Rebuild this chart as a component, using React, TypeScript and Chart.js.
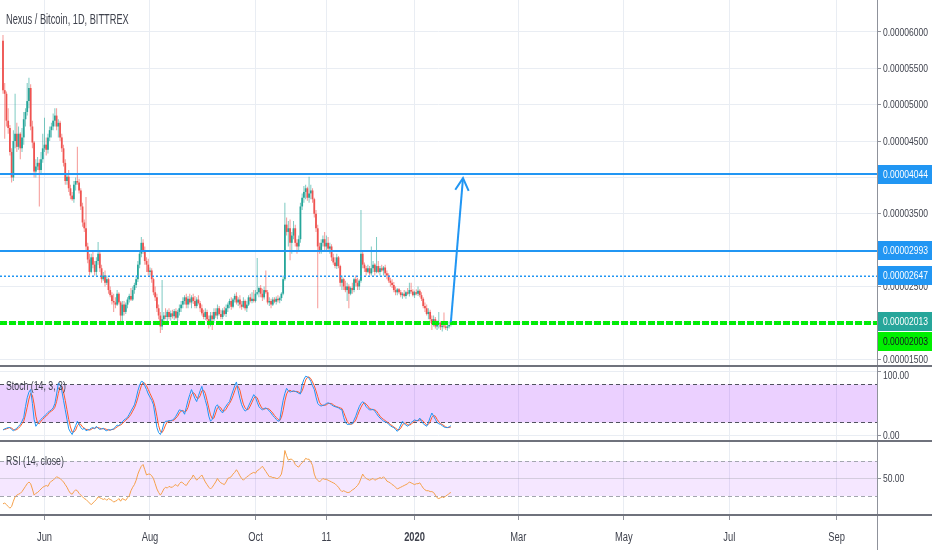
import React, { useEffect, useRef } from 'react';
import { Chart, registerables } from 'chart.js';

Chart.register(...registerables);

// ---------- text ----------
const TITLE = 'Nexus / Bitcoin, 1D, BITTREX';
const STOCH_LABEL = 'Stoch (14, 3, 3)';
const RSI_LABEL = 'RSI (14, close)';

// ---------- daily candles (prices in satoshi, 1e-8 BTC), index 0 = 8 May 2019 ----------
const OPEN = [
  5880, 5200, 5150, 4780, 4680, 4350, 4000, 4500, 4600, 4420,
  4600, 4400, 4550, 4800, 4900, 5050, 5230, 4700, 4480, 4080,
  4150, 4200, 4100, 4250, 4400, 4450, 4380, 4550, 4650, 4700,
  4780, 4850, 4700, 4750, 4550, 4400, 4200, 3950, 4010, 3850,
  3750, 3700, 3900, 3950, 3930, 3820, 3600, 3380, 3300, 3050,
  2870, 2700, 2900, 2800, 2700, 2850, 2950, 2750, 2600, 2650,
  2550, 2600, 2450, 2380, 2300, 2280, 2250, 2400, 2280, 2100,
  2250, 2150, 2250, 2320, 2370, 2320, 2450, 2520, 2600, 2800,
  2950, 3100, 3000, 2850, 2800, 2700, 2720, 2600, 2420, 2350,
  2200, 2100, 1950, 2050, 2100, 2080, 2150, 2080, 2130, 2090,
  2160, 2070, 2150, 2200, 2250, 2300, 2350, 2250, 2330, 2280,
  2350, 2300, 2230, 2320, 2270, 2200, 2130, 2080, 2150, 2050,
  2000, 2100, 2050, 2150, 2100, 2200, 2120, 2080, 2170, 2120,
  2200, 2250, 2300, 2220, 2320, 2370, 2280, 2320, 2250, 2220,
  2300, 2200, 2250, 2350, 2300, 2330, 2300, 2400, 2420, 2480,
  2400, 2350, 2450, 2420, 2280, 2300, 2250, 2320, 2290, 2330,
  2310, 2340, 2400, 2600, 3350, 3250, 3300, 3100, 3200, 3300,
  3100, 3050, 3150, 3600, 3720, 3800, 3850, 3720, 3780, 3820,
  3700, 3500, 3300, 3050, 3000, 3100, 3150, 3050, 3100, 3020,
  3050, 2900, 2830, 2780, 2900, 2780, 2550, 2600, 2500, 2450,
  2500, 2400, 2480, 2450, 2600, 2550, 2500, 2580, 2950, 2800,
  2750, 2700, 2750, 2680, 2750, 2800, 2700, 2780, 2700, 2750,
  2720, 2760, 2680, 2650, 2580, 2550, 2520, 2450, 2420, 2460,
  2420, 2380, 2400, 2370, 2420, 2400, 2450, 2430, 2380, 2420,
  2400, 2440, 2380, 2330, 2230, 2200, 2120, 2150, 2050, 1980,
  2050, 1950, 1980, 2000, 1940, 1960, 1950, 1930, 1950, 1970,
];
const HIGH = [
  5960, 5300, 5180, 4950, 4720, 4400, 4650, 5150, 4750, 4700,
  4620, 4680, 4900, 4950, 5300, 5370, 5280, 4780, 4500, 4250,
  4280, 4250, 4350, 4600, 4820, 4550, 4600, 4700, 4750, 4880,
  4950, 4950, 4800, 4780, 4600, 4450, 4250, 4050, 4100, 3900,
  3800, 3950, 4000, 4420, 3980, 3850, 3650, 3420, 3730, 3100,
  2950, 2950, 2980, 2850, 2900, 3110, 3000, 2800, 2700, 2720,
  2650, 2620, 2500, 2420, 2400, 2350, 2450, 2420, 2300, 2300,
  2300, 2280, 2350, 2400, 2480, 2500, 2550, 2650, 2850, 3000,
  3180, 3150, 3050, 2900, 2880, 2760, 2750, 2620, 2500, 2400,
  2250, 2150, 2590, 2150, 2200, 2180, 2200, 2170, 2180, 2190,
  2200, 2180, 2250, 2300, 2350, 2380, 2400, 2370, 2400, 2380,
  2400, 2370, 2350, 2380, 2300, 2250, 2180, 2200, 2180, 2100,
  2150, 2150, 2200, 2200, 2250, 2230, 2180, 2200, 2220, 2250,
  2280, 2330, 2350, 2340, 2400, 2420, 2350, 2380, 2300, 2350,
  2320, 2300, 2380, 2400, 2420, 2450, 2450, 2890, 2500, 2520,
  2470, 2500, 2720, 2450, 2350, 2330, 2350, 2350, 2360, 2380,
  2360, 2420, 2650, 3650, 3450, 3400, 3420, 3250, 3400, 3350,
  3150, 3200, 3650, 3780, 3880, 3900, 3870, 4010, 3900, 3850,
  3720, 3550, 3350, 3100, 3150, 3200, 3250, 3200, 3180, 3100,
  3080, 2950, 2900, 2950, 2920, 2800, 2650, 2620, 2580, 2550,
  2530, 2500, 2550, 2620, 2650, 2620, 2600, 3550, 3000, 2830,
  2780, 2800, 2780, 3050, 2850, 2820, 3180, 2850, 2780, 2800,
  2780, 2800, 2720, 2680, 2620, 2600, 2560, 2500, 2480, 2480,
  2450, 2420, 2450, 2440, 2480, 2550, 2550, 2460, 2440, 2460,
  2500, 2460, 2420, 2350, 2280, 2250, 2200, 2180, 2100, 2100,
  2080, 2030, 2150, 2020, 2000, 2140, 2000, 1980, 2020, 2040,
];
const LOW = [
  5150, 4530, 4700, 4600, 4300, 3930, 3950, 4400, 4350, 4380,
  4250, 4350, 4450, 4700, 4850, 4950, 4650, 4400, 4000, 4000,
  4100, 3600, 4050, 4200, 4350, 4300, 4330, 4500, 4550, 4650,
  4700, 4650, 4550, 4500, 4350, 4150, 3900, 3900, 3800, 3700,
  3680, 3650, 3820, 3900, 3780, 3550, 3320, 3250, 3000, 2820,
  2650, 2680, 2750, 2650, 2650, 2800, 2700, 2550, 2580, 2500,
  2520, 2400, 2350, 2250, 2150, 2200, 2230, 2250, 2000, 2000,
  2100, 2120, 2200, 2280, 2300, 2300, 2400, 2480, 2560, 2750,
  2900, 2950, 2800, 2700, 2650, 2650, 2550, 2380, 2300, 2150,
  2050, 1860, 1900, 2000, 2050, 2000, 2050, 2030, 2060, 2040,
  2050, 2020, 2100, 2150, 2200, 2250, 2200, 2200, 2250, 2200,
  2260, 2200, 2200, 2250, 2150, 2100, 2050, 2040, 2020, 1920,
  1950, 1900, 2000, 2070, 2050, 2100, 2050, 2050, 2100, 2080,
  2150, 2200, 2180, 2200, 2280, 2250, 2230, 2200, 2180, 2200,
  2170, 2150, 2230, 2280, 2270, 2280, 2280, 2380, 2350, 2350,
  2300, 2320, 2400, 2250, 2230, 2200, 2230, 2270, 2250, 2280,
  2270, 2300, 2380, 2580, 3200, 3050, 2860, 2950, 3150, 3050,
  2950, 3000, 3100, 3550, 3650, 3700, 3680, 3650, 3700, 3650,
  3450, 3250, 2200, 2950, 2950, 3050, 3000, 2980, 3000, 2950,
  2850, 2800, 2750, 2740, 2750, 2500, 2450, 2450, 2420, 2300,
  2200, 2380, 2400, 2420, 2500, 2450, 2450, 2550, 2750, 2700,
  2650, 2680, 2650, 2650, 2700, 2650, 2680, 2680, 2650, 2700,
  2650, 2650, 2600, 2550, 2500, 2480, 2420, 2380, 2380, 2400,
  2350, 2330, 2350, 2330, 2380, 2360, 2400, 2360, 2340, 2380,
  2370, 2350, 2300, 2200, 2150, 2100, 2050, 2000, 1900, 1950,
  1920, 1900, 1920, 1900, 1880, 1920, 1900, 1890, 1920, 1950,
];
const CLOSE = [
  5200, 5150, 4780, 4680, 4350, 4000, 4500, 4600, 4420, 4600,
  4400, 4550, 4800, 4900, 5050, 5230, 4700, 4480, 4080, 4150,
  4200, 4100, 4250, 4400, 4450, 4380, 4550, 4650, 4700, 4780,
  4850, 4700, 4750, 4550, 4400, 4200, 3950, 4010, 3850, 3750,
  3700, 3900, 3950, 3930, 3820, 3600, 3380, 3300, 3050, 2870,
  2700, 2900, 2800, 2700, 2850, 2950, 2750, 2600, 2650, 2550,
  2600, 2450, 2380, 2300, 2280, 2250, 2400, 2280, 2100, 2250,
  2150, 2250, 2320, 2370, 2320, 2450, 2520, 2600, 2800, 2950,
  3100, 3000, 2850, 2800, 2700, 2720, 2600, 2420, 2350, 2200,
  2100, 1950, 2050, 2100, 2080, 2150, 2080, 2130, 2090, 2160,
  2070, 2150, 2200, 2250, 2300, 2350, 2250, 2330, 2280, 2350,
  2300, 2230, 2320, 2270, 2200, 2130, 2080, 2150, 2050, 2000,
  2100, 2050, 2150, 2100, 2200, 2120, 2080, 2170, 2120, 2200,
  2250, 2300, 2220, 2320, 2370, 2280, 2320, 2250, 2220, 2300,
  2200, 2250, 2350, 2300, 2330, 2300, 2400, 2420, 2480, 2400,
  2350, 2450, 2420, 2280, 2300, 2250, 2320, 2290, 2330, 2310,
  2340, 2400, 2600, 3350, 3250, 3300, 3100, 3200, 3300, 3100,
  3050, 3150, 3600, 3720, 3800, 3850, 3720, 3780, 3820, 3700,
  3500, 3300, 3050, 3000, 3100, 3150, 3050, 3100, 3020, 3050,
  2900, 2830, 2780, 2900, 2780, 2550, 2600, 2500, 2450, 2500,
  2400, 2480, 2450, 2600, 2550, 2500, 2580, 2950, 2800, 2750,
  2700, 2750, 2680, 2750, 2800, 2700, 2780, 2700, 2750, 2720,
  2760, 2680, 2650, 2580, 2550, 2520, 2450, 2420, 2460, 2420,
  2380, 2400, 2370, 2420, 2400, 2450, 2430, 2380, 2420, 2400,
  2440, 2380, 2330, 2230, 2200, 2120, 2150, 2050, 1980, 2050,
  1950, 1980, 2000, 1940, 1960, 1950, 1930, 1950, 1970, 2013,
];

// ---------- indicators ----------
const STOCH_K = [
  8, 10, 11, 12, 12, 9, 7, 9, 11, 14,
  17, 22, 28, 45, 59, 68, 72, 50, 25, 14,
  18, 22, 25, 28, 30, 33, 36, 38, 40, 43,
  50, 65, 82, 80, 70, 55, 40, 25, 10, 5,
  1, 8, 15, 22, 17, 12, 9, 11, 7, 8,
  9, 11, 12, 10, 14, 11, 9, 10, 11, 8,
  7, 9, 8, 9, 10, 13, 16, 15, 18, 21,
  24, 26, 28, 33, 38, 43, 48, 58, 70, 79,
  85, 84, 78, 72, 65, 60, 55, 48, 30, 12,
  4, 1, 8, 18, 22, 22, 23, 23, 24, 26,
  30, 35, 40, 39, 38, 33, 44, 55, 64, 72,
  65, 58, 53, 62, 70, 77, 65, 55, 45, 30,
  22, 25, 35, 45, 48, 42, 38, 35, 42, 46,
  50, 53, 62, 70, 78, 84, 70, 58, 48, 42,
  38, 40, 46, 52, 58, 64, 60, 52, 45, 42,
  40, 42, 43, 41, 38, 35, 31, 28, 25, 22,
  23, 40, 55, 66, 74, 70, 68, 69, 70, 69,
  68, 66, 65, 80, 88, 93, 92, 90, 85, 78,
  72, 60, 50, 47, 46, 47, 48, 50, 51, 50,
  48, 46, 45, 44, 43, 41, 40, 28, 20, 17,
  17, 18, 18, 24, 30, 38, 45, 50, 53, 50,
  45, 42, 40, 40, 41, 38, 34, 30, 27, 25,
  22, 21, 20, 17, 15, 13, 12, 9, 6, 10,
  16, 22, 18, 16, 14, 17, 20, 22, 24, 23,
  23, 27, 22, 18, 16, 14, 20, 28, 35, 30,
  25, 20, 18, 17, 15, 13, 12, 12, 13, 15,
];
const STOCH_D = [
  9, 9, 10, 11, 12, 11, 9, 8, 9, 11,
  14, 18, 22, 32, 44, 57, 66, 63, 49, 30,
  19, 18, 22, 25, 28, 30, 33, 36, 38, 40,
  44, 53, 66, 76, 77, 68, 55, 40, 25, 13,
  5, 5, 8, 15, 18, 17, 13, 11, 9, 9,
  8, 9, 11, 11, 12, 12, 11, 10, 10, 10,
  9, 8, 8, 9, 9, 11, 13, 15, 16, 18,
  21, 24, 26, 29, 33, 38, 43, 50, 59, 69,
  78, 83, 82, 78, 72, 66, 60, 54, 44, 30,
  15, 6, 4, 9, 16, 21, 22, 23, 23, 24,
  27, 30, 35, 38, 39, 37, 38, 44, 54, 64,
  67, 65, 59, 58, 62, 70, 71, 66, 55, 43,
  32, 26, 27, 35, 43, 45, 43, 38, 38, 41,
  46, 50, 55, 62, 70, 77, 77, 71, 59, 49,
  43, 40, 41, 46, 52, 58, 61, 59, 52, 46,
  42, 41, 42, 42, 41, 38, 35, 31, 28, 25,
  23, 28, 39, 54, 65, 70, 71, 69, 69, 69,
  69, 68, 66, 70, 78, 87, 91, 92, 89, 84,
  78, 70, 61, 52, 48, 47, 47, 48, 50, 50,
  50, 48, 46, 45, 44, 43, 42, 36, 29, 22,
  18, 17, 18, 20, 24, 31, 38, 44, 49, 51,
  49, 46, 42, 41, 40, 40, 38, 34, 30, 27,
  25, 23, 21, 19, 17, 15, 13, 11, 9, 8,
  11, 16, 19, 19, 16, 16, 17, 20, 22, 23,
  23, 24, 24, 22, 19, 16, 17, 21, 28, 31,
  30, 25, 21, 18, 17, 15, 13, 12, 12, 13,
];
const RSI = [
  21, 22, 20, 18, 16, 18, 24, 29, 31, 32,
  33, 35, 38, 41, 44, 46, 44, 38, 31, 33,
  34, 36, 38, 40, 41, 42, 41, 45, 47, 48,
  50, 52, 51, 50, 48, 46, 43, 40, 36, 33,
  32, 35, 37, 36, 33, 31, 29, 27, 26, 24,
  22, 20, 22, 24, 26, 29, 28, 27, 26, 27,
  25, 27, 26, 25, 23, 24, 25, 27, 24, 27,
  26, 25, 28, 30, 36, 40, 43, 48, 55, 60,
  64, 66, 60, 54, 55, 55, 53, 50, 44, 38,
  34, 31, 34, 38, 40, 39, 41, 40, 40, 42,
  43, 41, 44, 46, 45, 43, 42, 45, 48, 50,
  54, 51, 48, 50, 52, 54, 50, 46, 43, 40,
  38, 40, 43, 46, 50, 47, 45, 44, 43, 46,
  50, 51, 52, 55, 57, 60, 57, 53, 50, 48,
  50, 52, 53, 55, 56, 57, 56, 59, 60, 62,
  64, 61, 58, 55, 52, 52, 51, 51, 50, 50,
  52, 55, 65, 82, 76, 71, 72, 72, 70, 66,
  64, 63, 66, 68, 70, 73, 72, 72, 69, 65,
  55, 50, 48, 46, 48, 50, 49, 49, 48, 47,
  46, 45, 44, 42, 40, 37, 35, 36, 35, 34,
  34, 35, 37, 38, 40, 42, 45, 50, 55, 52,
  50, 49, 48, 49, 50, 48, 49, 50, 51, 50,
  52, 50, 47, 46, 45, 43, 42, 40, 38, 39,
  40, 41, 42, 43, 44, 46, 45, 44, 43, 44,
  44, 45, 42, 39, 37, 36, 36, 35, 35, 34,
  31, 28, 27, 28, 29, 28, 30, 31, 33, 34,
];

// ---------- axes ----------
const DATE_TICKS = [24, 85, 146, 187, 238, 298, 359, 420, 482];
const DATE_LABELS = ['Jun', 'Aug', 'Oct', '11', '2020', 'Mar', 'May', 'Jul', 'Sep'];
const BOLD_DATE = '2020';
const X_RANGE = [-1.73, 505.4];
const PRICE_TICKS = [1500, 2000, 2500, 3000, 3500, 4000, 4500, 5000, 5500, 6000];
const PRICE_RANGE = [1392, 6440];
const STOCH_TICKS = [0, 100];
const STOCH_RANGE = [-10.8, 107.6];
const STOCH_BAND = [20, 80];
const RSI_TICKS = [50];
const RSI_RANGE = [7.1, 91.7];
const RSI_BAND = [30, 70];
const RSI_MID = 50;

// ---------- drawings ----------
const BLUE_LEVELS = [4044, 2993];
const BLUE_DOTTED_LEVELS = [2647];
const SUPPORT_LEVEL = 2003;
const ARROW_FROM = [259, 2013];
const ARROW_TO = [266, 3990];

// ---------- style ----------
const FONT = '"Liberation Sans", Arial, sans-serif';
const TEXT = '#3f424d';
const GRID = '#e9edf3';
const AXIS = '#8f929b';
const SEP = '#6f727c';
const UP = '#26a69a';
const DOWN = '#ef5350';
const UP_WICK = 'rgba(38,166,154,0.6)';
const DOWN_WICK = 'rgba(239,83,80,0.6)';
const BLUE = '#2196f3';
const LIME = '#00f000';
const AXIS_W = 55;

const IDX = CLOSE.map((_, i) => i);
const fmtPrice = (v: number) => (v / 1e8).toFixed(8);

// condensed text (the reference uses a narrow face)
function narrowText(ctx: any, text: string, x: number, y: number, size: number, sx: number, color = TEXT, align = 'left', weight = 'normal') {
  ctx.save();
  ctx.font = `${weight} ${size}px ${FONT}`;
  ctx.fillStyle = color;
  ctx.textBaseline = 'middle';
  ctx.textAlign = align;
  ctx.translate(x, y);
  ctx.scale(sx, 1);
  ctx.fillText(text, 0, 0);
  ctx.restore();
}

function xScale(showTicks: boolean) {
  return {
    type: 'linear',
    min: X_RANGE[0],
    max: X_RANGE[1],
    offset: false,
    afterBuildTicks: (s: any) => {
      s.ticks = DATE_TICKS.map((v) => ({ value: v }));
    },
    ticks: { display: false },
    grid: { color: GRID, offset: false, drawTicks: showTicks, tickLength: 4, tickColor: AXIS },
    border: { display: false },
    afterFit: (s: any) => {
      s.height = showTicks ? 34 : 0;
      s.paddingLeft = 0;
      s.paddingRight = 0;
    },
  };
}

function yScale(range: number[], ticks: number[], gridColor = GRID) {
  return {
    type: 'linear',
    position: 'right',
    min: range[0],
    max: range[1],
    afterBuildTicks: (s: any) => {
      s.ticks = ticks.map((v) => ({ value: v }));
    },
    ticks: { display: false },
    grid: { color: gridColor, tickLength: 4, tickColor: AXIS },
    border: { display: false },
    afterFit: (s: any) => {
      s.width = AXIS_W;
      s.paddingTop = 0;
      s.paddingBottom = 0;
    },
  };
}

function drawFrame(chart: any, sepY: number | null) {
  const { ctx, width, height, chartArea: a } = chart;
  ctx.save();
  ctx.strokeStyle = AXIS;
  ctx.lineWidth = 1;
  ctx.beginPath();
  ctx.moveTo(a.right + 0.5, 0);
  ctx.lineTo(a.right + 0.5, height);
  ctx.stroke();
  if (sepY !== null) {
    ctx.strokeStyle = SEP;
    ctx.lineWidth = 2;
    ctx.beginPath();
    ctx.moveTo(0, sepY);
    ctx.lineTo(width, sepY);
    ctx.stroke();
  }
  ctx.restore();
}

function drawYLabels(chart: any, ticks: number[], fmt: (v: number) => string) {
  const { chartArea: a, scales, height } = chart;
  ticks.forEach((v) => {
    let py = scales.y.getPixelForValue(v);
    py = Math.max(8, Math.min(height - 7, py));
    narrowText(chart.ctx, fmt(v), a.right + 6, py + 0.5, 11.5, 0.74);
  });
}

function hLine(ctx: any, a: any, py: number) {
  ctx.beginPath();
  ctx.moveTo(a.left, py);
  ctx.lineTo(a.right, py);
  ctx.stroke();
}

const mainOverlay = {
  id: 'mainOverlay',
  afterDatasetsDraw(chart: any) {
    const { ctx, chartArea: a, scales } = chart;
    const x = scales.x;
    const y = scales.y;
    ctx.save();
    ctx.beginPath();
    ctx.rect(a.left, a.top, a.right - a.left, a.bottom - a.top);
    ctx.clip();

    ctx.strokeStyle = BLUE;
    ctx.lineWidth = 2;
    BLUE_LEVELS.forEach((v) => hLine(ctx, a, Math.round(y.getPixelForValue(v))));

    ctx.lineWidth = 1.5;
    ctx.setLineDash([2, 2]);
    BLUE_DOTTED_LEVELS.forEach((v) => hLine(ctx, a, Math.round(y.getPixelForValue(v)) + 0.25));

    ctx.strokeStyle = LIME;
    ctx.lineWidth = 4;
    ctx.setLineDash([7, 2]);
    const sy = Math.round(y.getPixelForValue(SUPPORT_LEVEL));
    hLine(ctx, a, sy);
    ctx.strokeStyle = 'rgba(38,166,154,0.55)';
    ctx.lineWidth = 1;
    ctx.setLineDash([1, 2]);
    hLine(ctx, a, Math.round(y.getPixelForValue(CLOSE[CLOSE.length - 1])) + 0.5);

    // arrow
    ctx.setLineDash([]);
    ctx.strokeStyle = BLUE;
    ctx.lineWidth = 2;
    const x0 = x.getPixelForValue(ARROW_FROM[0]);
    const y0 = y.getPixelForValue(ARROW_FROM[1]);
    const x1 = x.getPixelForValue(ARROW_TO[0]);
    const y1 = y.getPixelForValue(ARROW_TO[1]);
    ctx.beginPath();
    ctx.moveTo(x0, y0);
    ctx.lineTo(x1, y1);
    ctx.stroke();
    const ang = Math.atan2(y0 - y1, x0 - x1);
    const len = 14;
    const spread = 0.5;
    ctx.beginPath();
    ctx.moveTo(x1 + len * Math.cos(ang - spread), y1 + len * Math.sin(ang - spread));
    ctx.lineTo(x1, y1);
    ctx.lineTo(x1 + len * Math.cos(ang + spread), y1 + len * Math.sin(ang + spread));
    ctx.stroke();
    ctx.restore();
  },
  afterDraw(chart: any) {
    const { ctx, chartArea: a, scales } = chart;
    const y = scales.y;
    drawFrame(chart, chart.height - 1);
    drawYLabels(chart, PRICE_TICKS, fmtPrice);

    // price labels on the axis
    const last = CLOSE[CLOSE.length - 1];
    const boxes = [
      ...BLUE_LEVELS.map((v) => ({ v, bg: BLUE, fg: '#ffffff' })),
      ...BLUE_DOTTED_LEVELS.map((v) => ({ v, bg: BLUE, fg: '#ffffff' })),
      { v: last, bg: UP, fg: '#ffffff' },
      { v: SUPPORT_LEVEL, bg: LIME, fg: '#131722' },
    ]
      .map((b) => ({ ...b, py: y.getPixelForValue(b.v) }))
      .sort((p, q) => p.py - q.py);
    const bh = 19;
    let prevBottom = -100;
    boxes.forEach((b) => {
      let top = Math.round(b.py - bh / 2);
      if (top < prevBottom) top = prevBottom + 1;
      ctx.fillStyle = b.bg;
      ctx.fillRect(a.right + 1, top, chart.width - a.right - 1, bh);
      narrowText(ctx, fmtPrice(b.v), a.right + 6, top + bh / 2 + 0.5, 11.5, 0.74, b.fg);
      prevBottom = top + bh;
    });

    narrowText(ctx, TITLE, 6, 20, 14, 0.66);
  },
};

function bandPlugin(id: string, band: number[], fill: string, dash: string, mid: number | null, label: string, ticks: number[], withDates: boolean) {
  return {
    id,
    beforeDatasetsDraw(chart: any) {
      const { ctx, chartArea: a, scales } = chart;
      const y = scales.y;
      const top = y.getPixelForValue(band[1]);
      const bot = y.getPixelForValue(band[0]);
      ctx.save();
      ctx.fillStyle = fill;
      ctx.fillRect(a.left, top, a.right - a.left, bot - top);
      if (mid !== null) {
        ctx.strokeStyle = 'rgba(149,152,161,0.35)';
        ctx.lineWidth = 1;
        hLine(ctx, a, Math.round(y.getPixelForValue(mid)) + 0.5);
      }
      ctx.strokeStyle = dash;
      ctx.lineWidth = 1;
      ctx.setLineDash([4, 3]);
      hLine(ctx, a, Math.round(top) + 0.5);
      hLine(ctx, a, Math.round(bot) + 0.5);
      ctx.restore();
    },
    afterDraw(chart: any) {
      const { ctx, chartArea: a, scales } = chart;
      drawFrame(chart, a.bottom - 1);
      drawYLabels(chart, ticks, (v) => v.toFixed(2));
      narrowText(ctx, label, 6, 20, 12.5, 0.7);
      if (withDates) {
        DATE_TICKS.forEach((v, i) => {
          const lbl = DATE_LABELS[i];
          narrowText(ctx, lbl, scales.x.getPixelForValue(v), a.bottom + 22, 12, 0.78, TEXT, 'center', lbl === BOLD_DATE ? 'bold' : 'normal');
        });
      }
    },
  };
}

const baseOptions = {
  responsive: false,
  animation: false,
  layout: { padding: 0 },
  plugins: { legend: { display: false }, tooltip: { enabled: false }, title: { display: false } },
  events: [],
};

function lineDs(values: number[], color: string) {
  return {
    data: values.map((v, i) => ({ x: i, y: v })),
    borderColor: color,
    borderWidth: 1,
    pointRadius: 0,
    tension: 0,
    fill: false,
  };
}

export default function App() {
  const mainRef = useRef<HTMLCanvasElement>(null);
  const stochRef = useRef<HTMLCanvasElement>(null);
  const rsiRef = useRef<HTMLCanvasElement>(null);

  useEffect(() => {
    document.body.style.margin = '0';
    const isUp = (i: number) => CLOSE[i] >= OPEN[i];

    const main = new Chart(mainRef.current as HTMLCanvasElement, {
      type: 'bar',
      data: {
        datasets: [
          {
            label: 'body',
            data: IDX.map((i) => ({ x: i, y: [OPEN[i], CLOSE[i]] })),
            backgroundColor: (c: any) => (isUp(c.dataIndex) ? UP : DOWN),
            barThickness: 1.8,
            grouped: false,
            inflateAmount: 0,
            borderWidth: 0,
            minBarLength: 1,
          },
          {
            label: 'wick',
            data: IDX.map((i) => ({ x: i, y: [LOW[i], HIGH[i]] })),
            backgroundColor: (c: any) => (isUp(c.dataIndex) ? UP_WICK : DOWN_WICK),
            barThickness: 1,
            grouped: false,
            inflateAmount: 0,
            borderWidth: 0,
          },
        ],
      } as any,
      options: {
        ...baseOptions,
        scales: {
          x: xScale(false),
          y: yScale(PRICE_RANGE, PRICE_TICKS),
        },
      } as any,
      plugins: [mainOverlay],
    });

    const stoch = new Chart(stochRef.current as HTMLCanvasElement, {
      type: 'line',
      data: { datasets: [lineDs(STOCH_K, BLUE), lineDs(STOCH_D, '#ff5a2a')] } as any,
      options: {
        ...baseOptions,
        scales: {
          x: xScale(false),
          y: yScale(STOCH_RANGE, STOCH_TICKS),
        },
      } as any,
      plugins: [bandPlugin('stochBand', STOCH_BAND, 'rgba(153,21,255,0.2)', '#50535e', null, STOCH_LABEL, STOCH_TICKS, false)],
    });

    const rsi = new Chart(rsiRef.current as HTMLCanvasElement, {
      type: 'line',
      data: { datasets: [lineDs(RSI, '#f5a04a')] } as any,
      options: {
        ...baseOptions,
        scales: {
          x: xScale(true),
          y: yScale(RSI_RANGE, RSI_TICKS, 'rgba(0,0,0,0)'),
        },
      } as any,
      plugins: [bandPlugin('rsiBand', RSI_BAND, 'rgba(153,21,255,0.1)', '#a3a6af', RSI_MID, RSI_LABEL, RSI_TICKS, true)],
    });

    return () => {
      main.destroy();
      stoch.destroy();
      rsi.destroy();
    };
  }, []);

  return (
    <div style={{ position: 'absolute', left: 0, top: 0, width: 932, height: 550, background: '#ffffff', overflow: 'hidden' }}>
      <canvas ref={mainRef} width={932} height={367} style={{ position: 'absolute', left: 0, top: 0 }} />
      <canvas ref={stochRef} width={932} height={75} style={{ position: 'absolute', left: 0, top: 367 }} />
      <canvas ref={rsiRef} width={932} height={108} style={{ position: 'absolute', left: 0, top: 442 }} />
    </div>
  );
}
